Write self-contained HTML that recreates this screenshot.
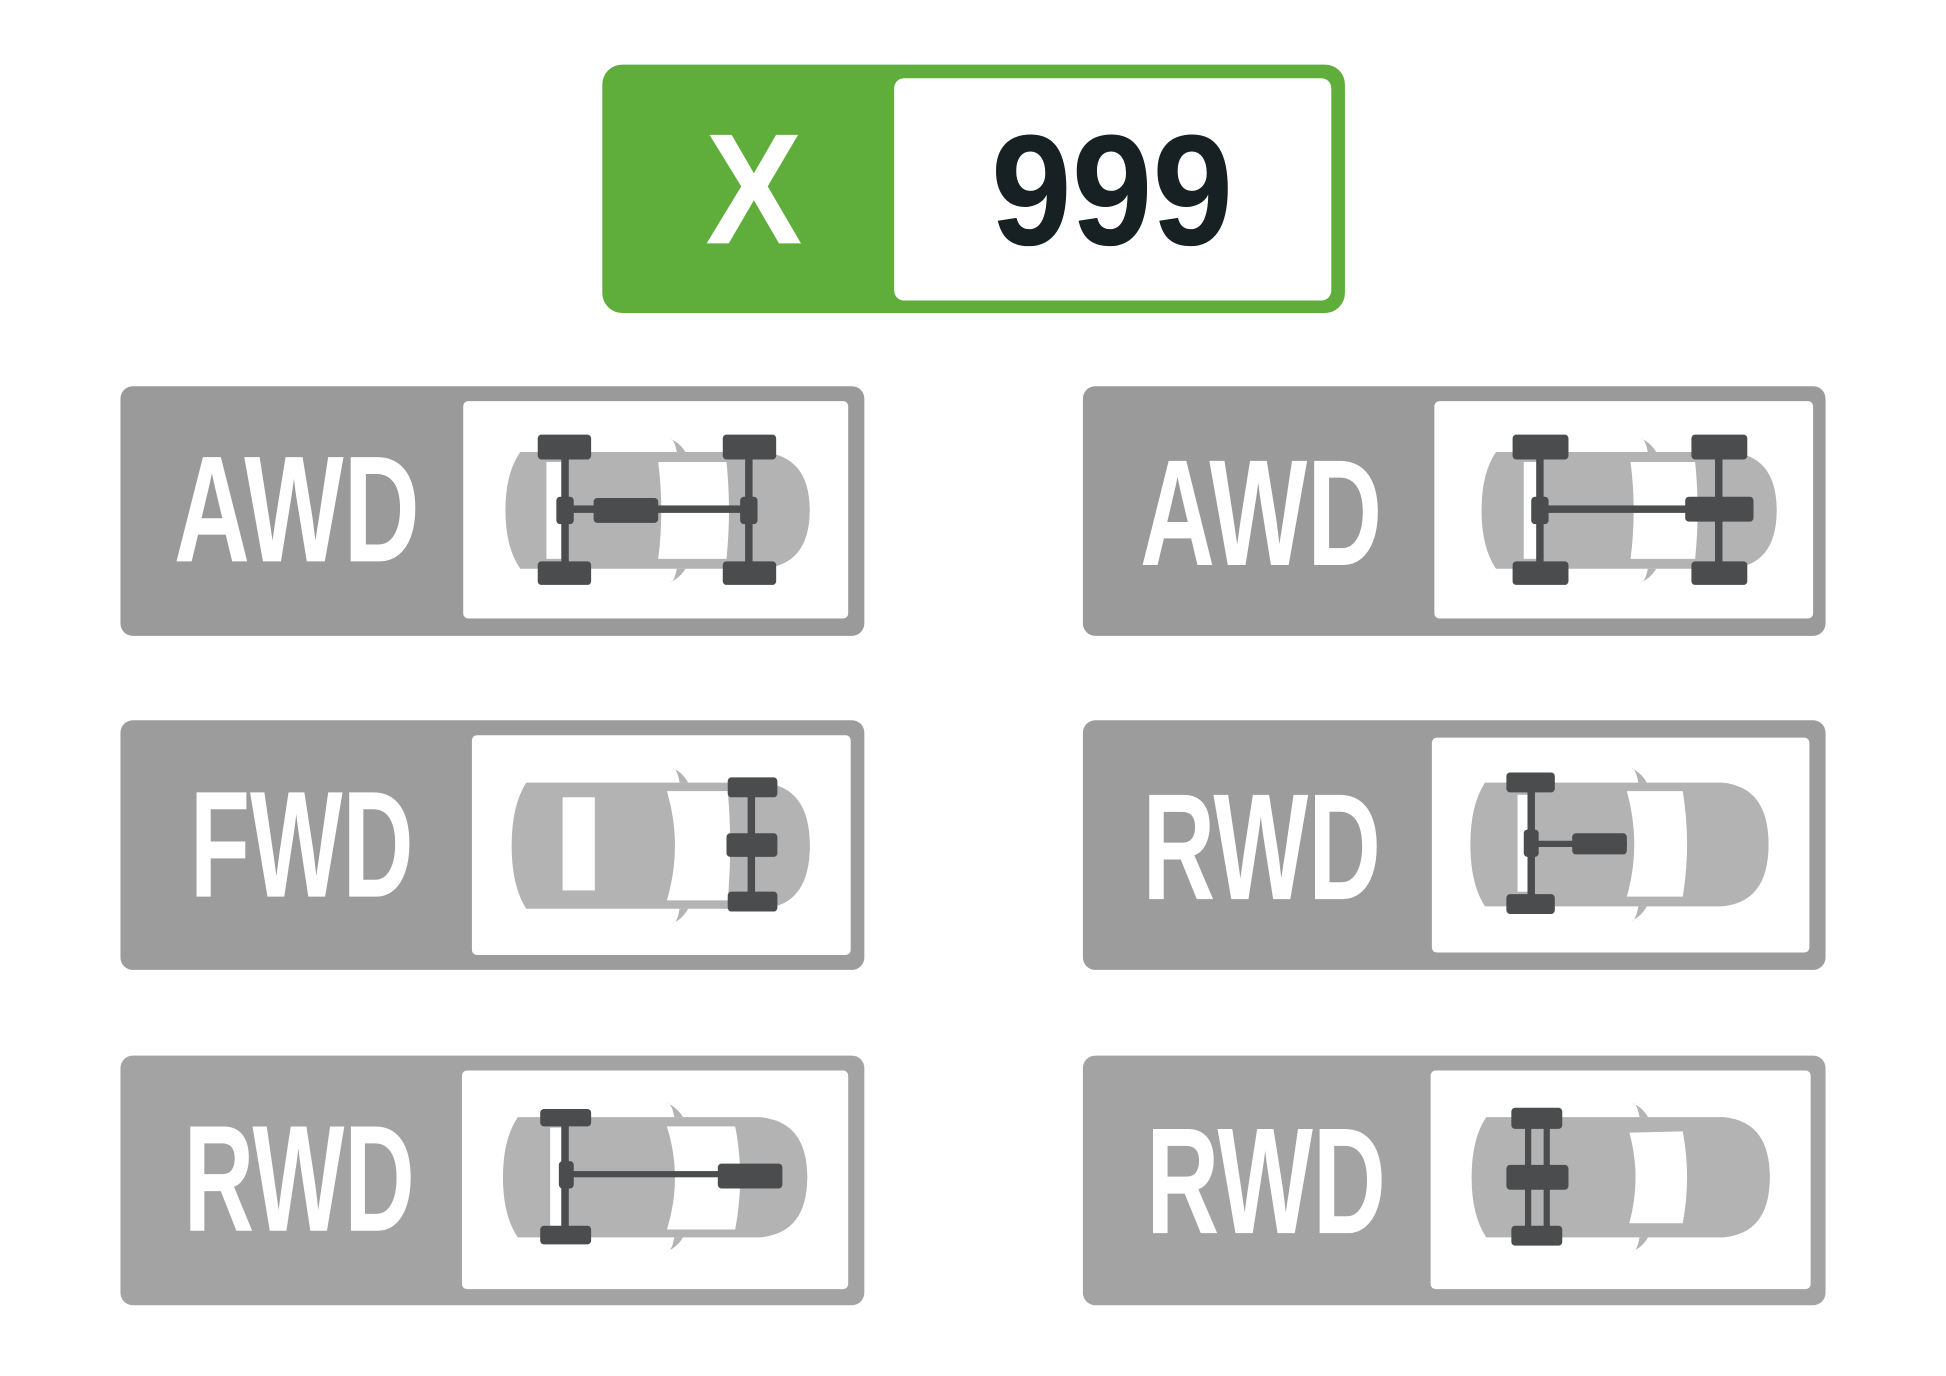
<!DOCTYPE html>
<html><head><meta charset="utf-8"><style>html,body{margin:0;padding:0;background:#fff}svg{display:block}</style></head>
<body>
<svg width="1946" height="1376" viewBox="0 0 1567 1108" preserveAspectRatio="none" xmlns="http://www.w3.org/2000/svg" font-family="'Liberation Sans Narrow','Liberation Sans',sans-serif" font-weight="bold">
<rect width="1570" height="1110" fill="#fff"/>
<rect x="485" y="52" width="598" height="200" rx="16" fill="#5fae3c"/>
<rect x="720" y="63" width="352" height="179" rx="8" fill="#fff"/>
<text x="568" y="196" font-size="127" fill="#fff" textLength="78" lengthAdjust="spacingAndGlyphs">X</text>
<text x="798" y="197" font-size="127" fill="#172022" textLength="195" lengthAdjust="spacingAndGlyphs">999</text>

<g>
<rect x="97" y="311" width="599" height="201" rx="10" fill="#999a99"/>
<rect x="373" y="323" width="310" height="175" rx="4" fill="#fff"/>
<rect x="872" y="311" width="598" height="201" rx="10" fill="#999a99"/>
<rect x="1155" y="323" width="305" height="175" rx="4" fill="#fff"/>
<rect x="97" y="580" width="599" height="201" rx="10" fill="#9c9c9c"/>
<rect x="380" y="592" width="305" height="177" rx="4" fill="#fff"/>
<rect x="872" y="580" width="598" height="201" rx="10" fill="#9c9c9c"/>
<rect x="1153" y="594" width="304" height="173" rx="4" fill="#fff"/>
<rect x="97" y="850" width="599" height="201" rx="10" fill="#a3a3a3"/>
<rect x="372" y="862" width="311" height="176" rx="4" fill="#fff"/>
<rect x="872" y="850" width="598" height="201" rx="10" fill="#a3a3a3"/>
<rect x="1152" y="862" width="306" height="176" rx="4" fill="#fff"/>
</g>
<g fill="#fff" font-size="122">
<text x="140" y="452" textLength="198" lengthAdjust="spacingAndGlyphs">AWD</text>
<text x="918" y="455" textLength="195" lengthAdjust="spacingAndGlyphs">AWD</text>
<text x="153" y="722" textLength="180" lengthAdjust="spacingAndGlyphs">FWD</text>
<text x="920" y="724" textLength="192" lengthAdjust="spacingAndGlyphs">RWD</text>
<text x="148" y="991" textLength="186" lengthAdjust="spacingAndGlyphs">RWD</text>
<text x="923" y="993" textLength="193" lengthAdjust="spacingAndGlyphs">RWD</text>
</g>

<defs>
<g id="car">
<path d="M12,-47 L205,-47 Q245,-45 245,0 Q245,45 205,47 L12,47 Q0,30 0,0 Q0,-30 12,-47 Z" fill="#b3b3b3"/>
<path d="M205,-47 A40,47 0 0 1 205,47 Z" fill="#b3b3b3"/>
<path d="M138,-47 Q136,-58 132,-58 Q140,-55 145,-47 Z M138,47 Q136,58 132,58 Q140,55 145,47Z" fill="#b3b3b3"/>
</g>
</defs>
<g fill="#4b4c4d">
<use href="#car" x="407" y="411"/>
<rect x="440" y="372" width="12" height="78" fill="#fff"/>
<path d="M530,372 L585,372 Q589,411 585,450 L530,450 Q535,411 530,372Z" fill="#fff"/>
<rect x="452" y="360" width="6" height="100"/><rect x="600" y="360" width="6" height="100"/>
<rect x="433" y="350" width="43" height="20" rx="3"/><rect x="433" y="452" width="43" height="19" rx="3"/>
<rect x="582" y="350" width="43" height="20" rx="3"/><rect x="582" y="452" width="43" height="19" rx="3"/>
<rect x="455" y="407" width="148" height="6"/><rect x="478" y="401" width="52" height="20" rx="3"/>
<rect x="448" y="400" width="14" height="22" rx="3"/><rect x="596" y="400" width="14" height="22" rx="3"/>

<use href="#car" x="1193" y="411" transform="translate(1193 411) scale(0.97 1) translate(-1193 -411)"/>
<rect x="1227" y="372" width="12" height="78" fill="#fff"/>
<path d="M1313,372 L1365,372 Q1369,411 1365,450 L1313,450 Q1318,411 1313,372Z" fill="#fff"/>
<rect x="1237" y="360" width="6" height="100"/><rect x="1381" y="360" width="6" height="100"/>
<rect x="1218" y="350" width="45" height="20" rx="3"/><rect x="1218" y="452" width="45" height="19" rx="3"/>
<rect x="1362" y="350" width="45" height="20" rx="3"/><rect x="1362" y="452" width="45" height="19" rx="3"/>
<rect x="1240" y="407" width="144" height="6"/><rect x="1357" y="400" width="55" height="20" rx="3"/>
<rect x="1233" y="400" width="14" height="22" rx="3"/>

<use href="#car" x="412" y="681" transform="translate(412 681) scale(0.98 1.08) translate(-412 -681)"/>
<rect x="453" y="642" width="26" height="75" fill="#fff"/>
<path d="M537,637 L586,637 Q590,681 586,725 L537,725 Q550,681 537,637Z" fill="#fff"/>
<rect x="602" y="632" width="6" height="98"/>
<rect x="586" y="626" width="40" height="16" rx="3"/><rect x="586" y="718" width="40" height="16" rx="3"/>
<rect x="585" y="671" width="41" height="19" rx="3"/>

<use href="#car" x="1184" y="680" transform="translate(1184 680) scale(0.98 1.06) translate(-1184 -680)"/>
<rect x="1222" y="640" width="10" height="78" fill="#fff"/>
<path d="M1310,637 L1355,637 Q1362,680 1355,722 L1310,722 Q1322,680 1310,637Z" fill="#fff"/>
<rect x="1230" y="630" width="6" height="100"/>
<rect x="1213" y="622" width="39" height="16" rx="3"/><rect x="1213" y="720" width="39" height="16" rx="3"/>
<rect x="1233" y="677" width="77" height="5"/><rect x="1266" y="671" width="44" height="17" rx="3"/>
<rect x="1227" y="668" width="12" height="22" rx="3"/>

<use href="#car" x="405" y="948" transform="translate(405 948) scale(1.0 1.03) translate(-405 -948)"/>
<rect x="443" y="908" width="9" height="80" fill="#fff"/>
<path d="M537,907 L592,907 Q600,948 592,990 L537,990 Q550,948 537,907Z" fill="#fff"/>
<rect x="452" y="897" width="6" height="100"/>
<rect x="435" y="893" width="41" height="14" rx="3"/><rect x="435" y="987" width="41" height="15" rx="3"/>
<rect x="455" y="943" width="173" height="5"/><rect x="578" y="937" width="52" height="20" rx="3"/>
<rect x="450" y="935" width="12" height="22" rx="3"/>

<use href="#car" x="1185" y="948" transform="translate(1185 948) scale(0.98 1.03) translate(-1185 -948)"/>
<path d="M1312,912 L1355,911 Q1362,948 1355,985 L1312,985 Q1322,948 1312,912Z" fill="#fff"/>
<rect x="1228" y="900" width="5" height="95"/><rect x="1243" y="900" width="5" height="95"/>
<rect x="1217" y="892" width="41" height="17" rx="3"/><rect x="1217" y="987" width="41" height="16" rx="3"/>
<rect x="1213" y="938" width="50" height="20" rx="3"/>
</g>
</svg>
</body></html>
